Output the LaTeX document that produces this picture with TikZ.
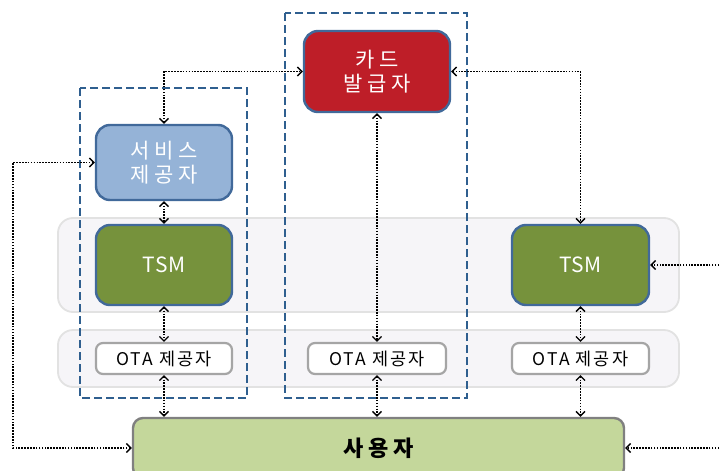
\documentclass[tikz,border=0pt]{standalone}
\usepackage{fontspec}
\newfontfamily\krwide{Noto Sans CJK KR}[LetterSpace=22]
\newfontfamily\krtsm{Noto Sans CJK KR}[LetterSpace=4]
\newfontfamily\krota{Noto Sans CJK KR}[LetterSpace=12]
\newfontfamily\kruser{Noto Sans CJK KR}[LetterSpace=20]
\usetikzlibrary{arrows.meta}
\definecolor{svcfill}{HTML}{95B3D7}
\definecolor{boxedge}{HTML}{41699A}
\definecolor{cardfill}{HTML}{BE1E28}
\definecolor{tsmfill}{HTML}{76923C}
\definecolor{userfill}{HTML}{C4D79B}
\definecolor{useredge}{HTML}{808080}
\definecolor{otaedge}{HTML}{A5A5A5}
\definecolor{bandfill}{HTML}{F6F5F8}
\definecolor{bandedge}{HTML}{E2E2E2}
\definecolor{dashblue}{HTML}{2F5F8F}
\tikzset{
  colbox/.style={draw=boxedge, line width=2.4pt, rounded corners=14pt, text=white,
    font=\krwide\fontsize{21}{24}\selectfont, align=center, inner sep=0pt},
  tsmbox/.style={colbox, font=\krtsm\fontsize{21}{24}\selectfont},
  otabox/.style={draw=otaedge, fill=white, line width=2.2pt, rounded corners=7pt,
    font=\krota\fontsize{17.5}{19}\selectfont, inner sep=0pt, minimum height=31pt},
  band/.style={draw=bandedge, fill=bandfill, line width=1.8pt, rounded corners=15pt},
  groupbox/.style={draw=dashblue, line width=2.5pt, dash pattern=on 8pt off 4pt},
  conn/.style={draw=black, line width=1.8pt, dash pattern=on 1.6pt off 1.3pt,
    {Straight Barb[length=4.5pt,width=9pt,line width=1.3pt]}-{Straight Barb[length=4.5pt,width=9pt,line width=1.3pt]}},
  oneway/.style={draw=black, line width=1.8pt, dash pattern=on 1.6pt off 1.3pt,
    -{Straight Barb[length=4.5pt,width=9pt,line width=1.3pt]}}
}
\begin{document}
\begin{tikzpicture}[x=1pt,y=-1pt]
\clip (0,0) rectangle (720,471);
\fill[white] (0,0) rectangle (720,471);
% bands
\draw[band] (58,218) rectangle (679,312);
\draw[band] (58,330) rectangle (679,387);
% group boxes
\draw[groupbox] (80,88) rectangle (247,398);
\draw[groupbox] (285,13) rectangle (467,398);
% nodes
\node[colbox, fill=svcfill, minimum width=136pt, minimum height=75pt] (svc) at (164,162.5) {서비스\\제공자};
\node[colbox, fill=cardfill, minimum width=146pt, minimum height=81pt] (card) at (377,71.5) {카드\\발급자};
\node[tsmbox, fill=tsmfill, minimum width=136pt, minimum height=80pt] (tsmL) at (164,265) {TSM};
\node[tsmbox, fill=tsmfill, minimum width=137pt, minimum height=80pt] (tsmR) at (580.5,265) {TSM};
\node[otabox, minimum width=136pt] (otaL) at (164,358.5) {OTA 제공자};
\node[otabox, minimum width=138pt] (otaM) at (377,358.5) {OTA 제공자};
\node[otabox, minimum width=137pt] (otaR) at (580.5,358.5) {OTA 제공자};
\node[draw=useredge, fill=userfill, line width=2.4pt, rounded corners=10pt,
  minimum width=491pt, minimum height=60pt, inner sep=0pt,
  font=\kruser\bfseries\fontsize{22}{24}\selectfont] (user) at (378.5,448) {사용자};
% connectors
\draw[conn] (svc.north) |- (card.west);
\draw[conn] (card.east) -| (tsmR.north);
\draw[conn] (card.south) -- (otaM.north);
\draw[conn] (svc.south) -- (tsmL.north);
\draw[conn] (tsmL.south) -- (otaL.north);
\draw[conn] (otaL.south) -- (user.north -| otaL.south);
\draw[conn] (otaM.south) -- (user.north -| otaM.south);
\draw[conn] (tsmR.south) -- (otaR.north);
\draw[conn] (otaR.south) -- (user.north -| otaR.south);
\coordinate (lx) at (13,300);
\draw[conn] (user.west) -| (lx) |- (svc.west);
\coordinate (r1) at (722,265);
\coordinate (r2) at (722,448);
\draw[oneway] (r1) -- (tsmR.east);
\draw[oneway] (r2) -- (user.east);
\end{tikzpicture}
\end{document}
